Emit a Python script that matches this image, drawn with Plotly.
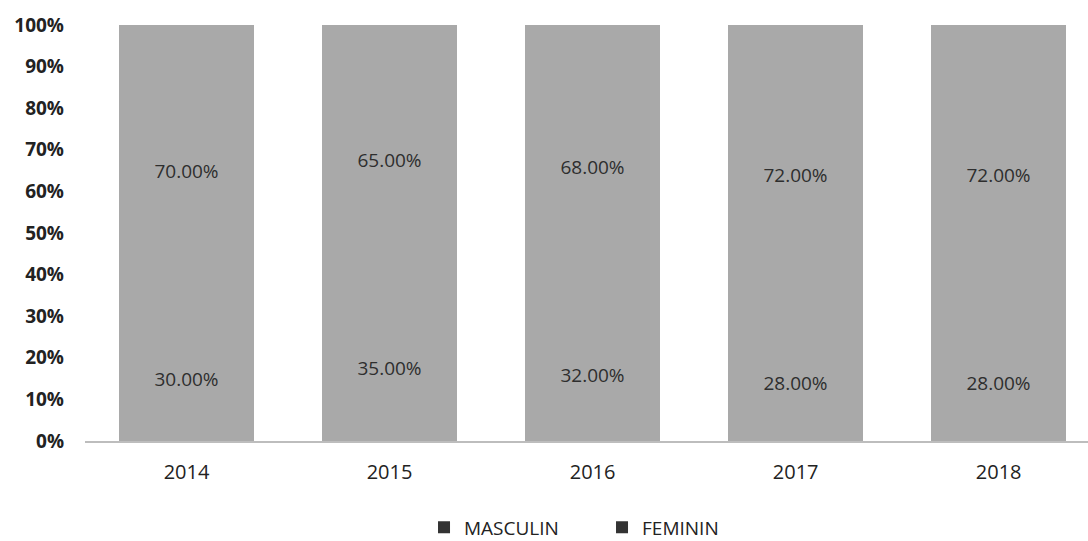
import plotly.graph_objects as go

years = ["2014", "2015", "2016", "2017", "2018"]
masculin = [30, 35, 32, 28, 28]
feminin = [70, 65, 68, 72, 72]
series_names = ["MASCULIN", "FEMININ"]
y_ticks = [0, 10, 20, 30, 40, 50, 60, 70, 80, 90, 100]

bar_color = "#a9a9a9"
label_font = dict(family="Open Sans, Liberation Sans, sans-serif", size=19, color="#2e2e2e")

fig = go.Figure()
for name, vals in zip(series_names, [masculin, feminin]):
    fig.add_trace(go.Bar(
        x=years, y=vals, name=name, showlegend=False,
        marker=dict(color=bar_color, line=dict(width=0)),
        width=0.665,
        text=[f"{v:.2f}%" for v in vals],
        textposition="inside", insidetextanchor="middle",
        textfont=label_font,
    ))
    # legend swatch
    fig.add_trace(go.Scatter(
        x=[None], y=[None], mode="markers", name=name,
        marker=dict(symbol="square", size=12, color="#333333"),
    ))

fig.update_layout(
    barmode="stack",
    bargap=0,
    width=1088, height=541,
    margin=dict(l=85, r=0, t=25, b=100),
    paper_bgcolor="white", plot_bgcolor="white",
    font=dict(family="Open Sans, Liberation Sans, sans-serif", color="#222222"),
    legend=dict(orientation="h", x=0.338, xanchor="left",
                yref="container", y=0.025, yanchor="middle",
                traceorder="normal", entrywidth=133, entrywidthmode="pixels",
                font=dict(size=19, color="#222222"), itemwidth=30, tracegroupgap=0),
    uniformtext=dict(minsize=10, mode="show"),
)
fig.update_xaxes(
    type="category", range=[-0.5, 4.44], automargin=False,
    showline=True, linecolor="#bdbdbd", linewidth=1.5,
    ticks="", tickfont=dict(size=20, color="#222222"), ticklabelstandoff=12,
    showgrid=False,
)
fig.update_yaxes(
    range=[0, 100], tickvals=y_ticks, ticktext=[f"{t}%" for t in y_ticks],
    automargin=False, ticklabelstandoff=20,
    showgrid=False, zeroline=False, showline=False,
    tickfont=dict(size=19, color="#222222", weight="bold"),
)

fig.write_html("out.html")
